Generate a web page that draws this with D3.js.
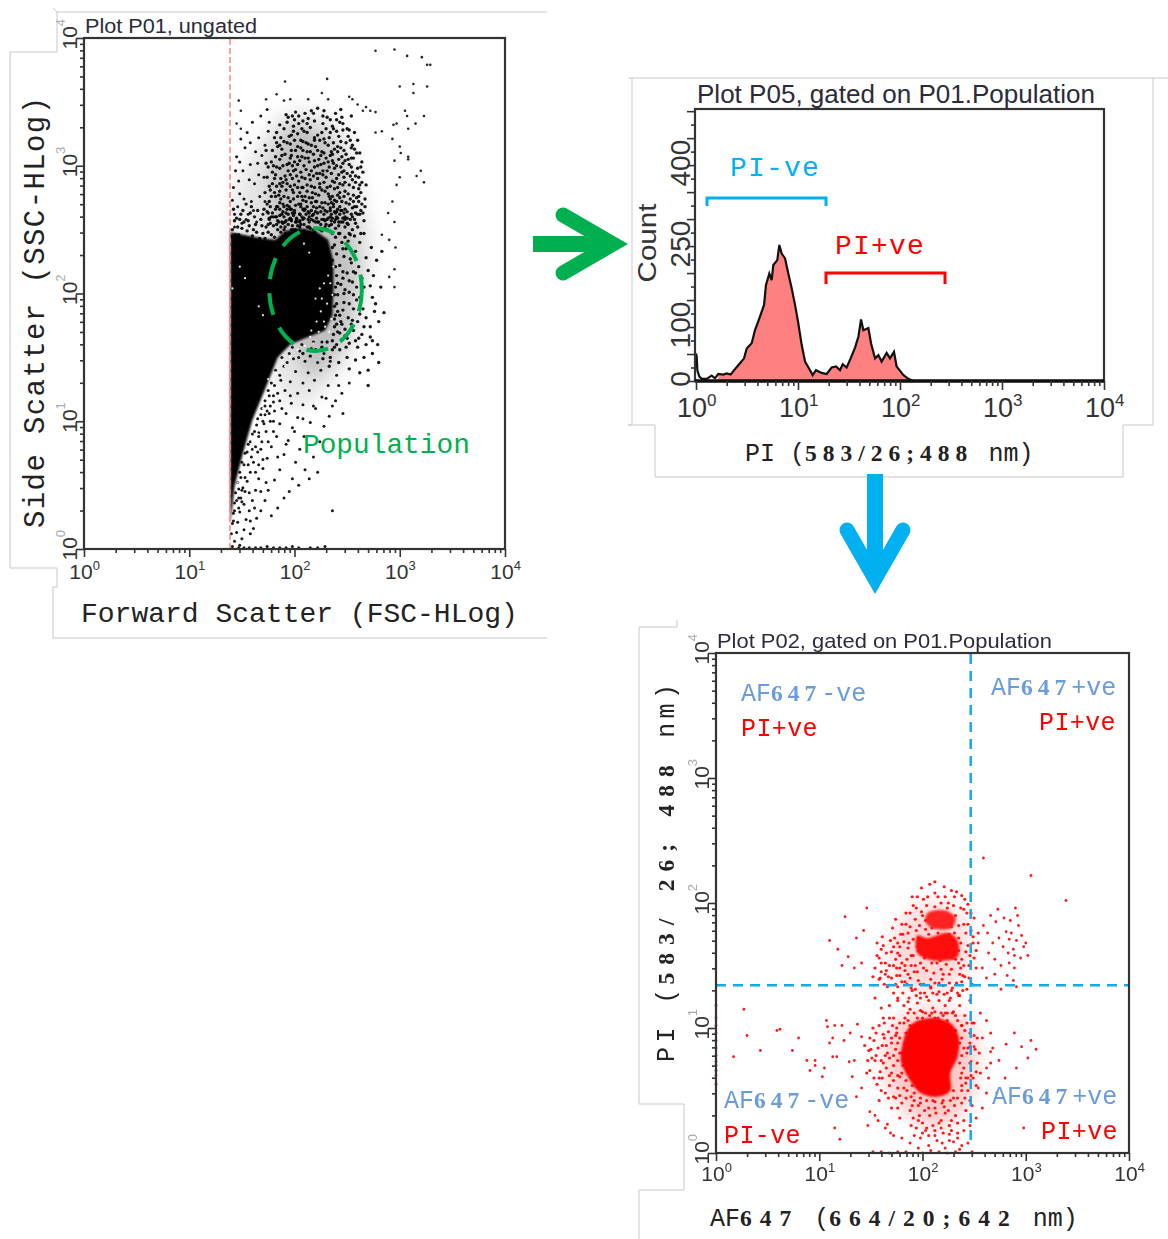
<!DOCTYPE html>
<html>
<head>
<meta charset="utf-8">
<title>Flow cytometry gating</title>
<style>
  body { margin: 0; background: #fff; }
  svg { display: block; }
  .outline { fill: none; stroke: #c9c9c9; stroke-width: 1; }
  .frame { fill: none; stroke: #333; stroke-width: 2.2; }
  .axis path { display: none; }
  .axis line { stroke: #333; stroke-width: 1.6; }
  .title { font-family: "Liberation Sans", sans-serif; fill: #2b2b3a; }
  .tick10 { font-family: "Liberation Sans", sans-serif; fill: #333; }
  .mono { font-family: "Liberation Mono", monospace; }
  .num { font-family: "Liberation Serif", serif; font-weight: bold; }
</style>
</head>
<body>
<script src="https://d3js.org/d3.v7.min.js"></script>
<script>

// all events below are flat x,y lists in log10 units x 100

// P01 scatter (FSC, SSC)
var p01Outliers = [277,390,295,391,307,386,321,385,329,379,326,379,300,362,313,364,326,362,313,357,191,366,231,368,226,357,183,356,147,351,173,352,190,351,196,352,213,352,232,352,252,354,255,352,149,343,260,348,268,346,265,343,272,343,277,342,305,343,307,339,323,339,315,333,308,329,297,333,294,332,145,333,149,329,277,326,283,327,293,321,300,315,301,310,308,307,308,305,295,304,320,296,316,292,300,291,323,287,297,285,293,272,289,263,295,256,295,219,290,213,295,205,296,236,290,242,283,246];

var p01Cloud = [201,312,236,288,187,274,252,301,219,335,194,296,228,262,263,279,207,283,244,319,182,307,216,271,239,341,199,261,257,268,223,305,190,329,233,276,248,287,211,297,
176,284,229,318,204,339,241,266,215,289,186,261,254,314,197,308,226,281,208,266,237,302,193,318,261,291,218,257,246,333,179,295,212,326,232,259,203,276,258,255,
221,294,189,287,243,275,199,331,235,311,184,268,214,303,267,268,206,320,227,339,250,259,192,281,238,256,173,302,220,315,256,283,209,259,196,272,231,296,245,307,
181,322,264,303,217,279,202,292,240,327,188,256,253,274,225,264,178,276,210,341,234,284,198,300,247,263,213,317,259,310,186,298,230,329,205,262,242,293,221,272,
266,257,194,338,237,270,175,263,218,309,251,323,200,285,228,302,183,284,244,256,211,272,255,295,191,309,235,262,207,329,222,290,261,272,179,312,248,280,214,260,
197,266,233,322,242,305,186,332,203,301,225,254,258,263,216,343,192,263,238,282,208,312,250,294,229,271,181,290,268,285,219,299,201,256,245,338,212,285,236,331,
195,323,253,258,224,320,177,268,241,259,206,295,262,262,188,313,231,283,215,251,199,279,247,312,220,264,234,308,183,299,257,326,210,276,193,301,243,286,227,296,
204,333,239,263,260,320,186,280,222,345,249,271,174,291,213,264,232,316,198,290,255,267,207,307,244,299,180,260,219,283,236,276,192,340,265,295,226,311,201,269,
209,254,251,305,184,315,228,287,240,336,195,258,216,296,258,287,172,279,234,267,203,325,246,259,223,277,189,270,262,310,211,318,238,298,197,312,230,254,254,339,
218,268,178,303,243,268,205,279,226,326,191,292,249,318,213,306,235,257,182,276,259,275,200,336,241,283,221,259,187,322,267,274,208,273,232,303,196,284,252,285,
215,330,229,265,186,305,245,295,202,259,237,318,176,272,224,286,256,306,193,269,210,290,248,266,199,327,234,274,264,287,181,279,219,322,241,311,206,268,228,310,
190,276,253,292,217,261,231,338,203,307,247,276,184,257,222,300,238,264,196,317,260,298,212,280,175,299,243,334,208,335,226,258,255,260,192,289,235,294,250,329,
214,256,199,274,240,272,183,326,220,278,263,265,205,304,230,291,188,284,246,302,216,316,257,313,194,262,236,309,224,268,179,286,209,300,242,256,252,270,200,320,
232,270,186,271,219,304,248,258,204,288,227,333,261,282,195,302,238,287,212,268,173,312,244,314,223,256,189,300,256,277,207,260,234,326,198,281,215,311,250,264,
229,280,182,266,240,300,265,263,201,297,218,292,246,285,193,334,254,299,225,308,208,283,236,259,187,290,259,268,213,337,197,257,242,323,231,264,177,281,220,272,
204,270,249,309,227,293,190,319,238,273,255,316,210,306,183,254,243,262,216,284,234,336,196,306,261,276,222,324,200,265,247,291,186,286,229,257,252,328,211,262,
194,275,240,290,218,341,174,270,257,258,206,314,233,299,245,272,188,308,224,283,263,299,199,296,214,275,237,329,180,300,251,278,228,321,192,257,209,327,241,315,
221,267,201,342,255,289,235,271,185,277,246,328,216,258,230,306,197,324,260,262,207,291,243,279,176,258,224,294,248,304,212,311,189,264,239,258,203,283,226,271,
253,320,193,286,219,320,236,304,182,293,264,270,210,266,232,278,198,339,245,265,222,312,205,256,258,292,186,316,241,277,228,343,214,293,250,255,195,268,234,260,
208,319,178,260,244,344,217,275,200,303,256,272,225,301,190,260,238,313,212,333,262,285,183,318,231,258,247,296,196,293,220,256,207,276,240,264,254,306,203,315];

var p01CloudLow = [212,252,226,249,198,253,239,251,205,257,218,262,233,253,248,252,191,252,243,247,255,250,209,249,222,256,236,247,201,250,229,252,214,263,196,259,246,256,252,247,187,252,206,270,219,248,234,265,242,253,260,252,193,266,227,267,240,260,213,258,200,263,254,262,183,260,224,250,237,268,248,260,205,252,216,265,190,268,231,250,257,245,263,247,209,265,244,265,197,250,222,263,251,254,175,254,235,254,202,256,228,258];

var p01CloudLeft = [143,262,158,301,147,288,166,322,152,274,171,291,141,273,162,286,156,262,169,308,148,303,160,334,175,327,144,296,153,314,167,276,150,255,172,316,159,272,142,283,164,256,146,268,155,326,170,262,149,321,163,311,157,289,145,307,168,339,174,344,151,296,161,265,143,252,166,293,154,258,176,334,148,278,158,318,172,272,165,302];

var p01Rim = [141,250,148,258,155,249,163,254,170,247,176,259,184,250,191,256,196,266,203,253,147,246,158,263,167,243,173,252,181,244,188,262,199,250,208,258,143,257,151,265,160,245,174,264,185,256,192,247,205,262,214,252,146,252,153,243,162,260,169,253,178,246,183,268,194,254,201,245,144,246,157,253,165,265,172,243,180,253,187,248,197,258,211,247,150,251,159,268,168,258,175,248,189,255,204,249,218,250,142,266,152,256,164,248,177,255,186,266,195,246,206,254,141,244,149,262,156,257,171,266,182,260,198,263,209,266,145,259,154,270,161,250,179,263,190,250,202,258];

var p01Ring = [242,247,251,241,236,236,247,229,258,233,243,222,254,224,262,240,240,214,250,216,261,221,268,228,244,207,255,209,236,226,264,212,270,218,241,199,252,201,259,205,247,193,262,197,272,206,238,190,256,188,265,188,274,197,243,183,251,181,260,178,268,181,276,186,240,176,248,172,256,171,264,168,272,174,280,178,237,168,245,164,252,161,260,158,268,160,243,156,250,150,258,148,266,150,274,153,238,158,234,150,242,146,252,141,262,138,270,140,280,146,246,235,253,246,266,247,273,236,278,226,283,233,275,214,282,205,277,192,285,185,272,166,279,160,270,128,238,238,248,203,239,205,246,212,256,199,262,184,252,192,241,186,238,180,245,176,255,179,258,163,249,158,241,170,266,174,274,163,248,244,258,216,266,205,
239,244,245,240,240,231,249,235,239,221,246,217,241,208,238,199,247,200,240,192,246,187,239,183,244,178,238,174,243,169,236,163,240,160,248,167,231,162,226,158,236,156,233,143,227,149,220,156,215,151,208,153,252,210,256,217,253,227,259,195,254,176,250,165,261,165];

var p01Lower = [205,155,216,157,228,153,199,149,210,147,222,146,234,147,190,143,201,139,213,138,225,140,240,136,252,130,186,136,196,131,208,130,219,132,232,128,245,122,181,128,191,124,203,122,214,124,226,119,239,116,176,120,186,116,197,114,208,113,220,110,233,104,172,112,181,108,192,106,203,103,215,99,228,96,168,105,177,100,186,98,198,95,209,88,224,84,164,97,173,92,183,88,194,85,205,78,218,72,160,90,169,84,178,80,190,74,201,68,156,82,165,76,174,71,186,62,198,55,153,75,161,68,170,63,181,54,150,68,158,60,166,55,175,46,190,40,148,60,155,53,163,46,172,38,184,32,146,52,153,45,160,38,168,30,178,26,144,44,150,37,157,30,164,24,143,36,148,29,154,23,161,16,142,28,146,21,152,15,158,12,141,20,145,13,150,8,140,12,143,6,148,3,141,2,147,1,152,1,157,1,163,1,168,1,174,2,180,1,186,1,192,1,198,2,204,1,215,1,222,1,229,2,236,30,204,50,195,45,210,62,214,55,222,60,166,91,171,98,176,106,180,115,188,110,196,120,170,70,175,84,180,92,163,60,168,45,173,52,157,44,162,32,152,35,158,22,147,40,184,72,192,82,200,92,208,102,218,112,230,118,242,128,236,112,246,106,180,100,168,78,
188,150,193,146,182,140,187,132,178,130,175,124,180,120,172,116,169,110,174,108,165,102,170,100,162,92,166,88,158,84,163,80,155,76,159,72,152,66,156,66,149,56,153,56,147,47,151,48,145,38,149,40,143,30,147,32,142,22,198,158,207,160,218,162,226,162,195,153,204,150,172,105,177,112,184,122,160,78,166,66,150,46];

// holes left in the solid part of P01
var p01Gaps = [237,221,232,214,228,208,236,199,231,192,225,186,235,180,229,174,223,170,218,161,210,159,203,156,196,150,191,143,216,171,224,204,220,196,148,221,153,212,141,204,166,190,170,183,175,133,172,118,168,103,165,90,162,78,158,64,154,58,209,239,214,232,228,178,233,170,221,178,215,166,226,196,234,208,188,146,182,138,177,126,170,110,160,84,150,64,146,52];

var p01Solid = [[139,248],[170,243],[182,242],[191,249],[205,251],[220,249],[232,242],[237,225],[237,203],[236,183],[229,171],[210,165],[196,160],[184,150],[173,127],[160,101],[151,75],[143,49],[141,33],[139,19]];
var p01DensityOuter = [[140,250],[147,290],[160,310],[175,330],[195,342],[225,342],[250,325],[260,295],[270,260],[275,230],[265,195],[255,155],[230,125],[200,110]];
var p01DensityInner = [[180,250],[178,300],[195,330],[215,330],[240,310],[250,270],[258,240],[258,200],[245,160],[215,135]];
var populationGate = {x: 220, y: 203, rx: 44, ry: 48};
var fscCutoff = 24.4;

// P05 histogram
var piLog = [0,.007,.013,.033,.056,.105,.154,.186,.219,.268,.301,.34,.382,.431,.471,.497,.546,.578,.621,.667,.686,.719,.742,.758,.797,.817,.84,.873,.905,.938,.971,1.003,1.036,1.069,1.118,1.144,1.176,1.232,1.281,1.33,1.373,1.412,1.438,1.477,1.516,1.559,1.592,1.618,1.641,1.69,1.716,1.755,1.788,1.82,1.869,1.902,1.941,1.967,2.033,2.082,2.131,4];
var piCount = [51,45,20,8,4,4,10,5,13,12,14,12,22,33,42,60,70,94,116,141,178,199,187,215,224,252,236,227,199,172,141,107,67,36,20,11,20,15,13,25,27,20,31,25,42,62,82,114,94,98,70,42,48,36,52,42,54,27,11,4,0,0];
var countLabels = [0,100,250,400];

// P02 scatter (AF647, PI)
var p02Outliers = [27,115,62,99,59,98,30,94,80,92,43,82,74,82,17,77,107,106,108,101,115,102,122,102,113,92,124,90,110,88,96,74,96,70,88,74,91,66,105,68,103,61,113,77,117,77,129,73,134,74,130,96,137,103,141,93,132,61,141,52,136,45,115,20,120,11,147,22,149,33,154,30,169,16,166,23,298,20,339,202,305,222,259,236,0,55,0,62,0,70,0,78,0,84,0,90,0,96,0,102,0,108,0,66,0,73,0,118,250,85,258,92,266,81,274,74,281,87,289,96,296,85,302,76,247,73,262,68,280,60,291,68,305,90,310,83,242,60,254,52,272,48,110,170,125,189,118,163,136,172,128,157,141,152,146,196,143,178,134,148,122,150];

var p02Upper = [203,186,226,163,191,171,237,148,212,197,178,158,219,139,247,178,198,152,231,205,184,183,208,132,242,161,215,176,169,170,224,189,196,138,235,172,205,168,189,150,252,148,217,154,175,142,228,147,201,203,243,192,186,164,211,144,238,137,164,152,221,213,194,178,232,155,207,158,181,128,249,168,216,129,199,193,226,175,172,150,240,183,188,140,213,167,234,128,160,163,204,146,245,150,179,175,222,160,196,162,237,196,209,180,185,155,229,132,154,148,218,200,201,135,248,135,193,187,235,162,176,168,214,152,241,141,167,141,207,215,226,136,189,132,232,190,199,170,244,166,183,146,219,168,204,125,238,155,171,180,212,208,250,156,195,145,228,181,180,137,223,151,206,175,236,143,161,173,216,136,247,192,191,198,230,167,202,156,174,155,242,176,186,176,210,128,233,209,198,124,220,181,245,140,164,143,213,160,184,192,226,143,240,150,176,133,205,187,235,182,193,131,218,147,158,156,252,162,199,212,229,156,210,170,187,124,241,203,170,161,224,196,201,148,233,136,182,169,215,190,246,158,195,165,208,139,166,133,237,168,221,127,178,148,203,179,230,198,191,158,243,131,212,217,174,187,227,124,159,140,235,152,197,182,220,143,249,173,185,135,207,162,240,195,172,128,216,170,228,210,193,150,236,126,204,198,180,152,244,183,212,136,162,166,198,128,231,176,222,205,188,181,209,152,176,124,239,142,196,172,
156,158,168,150,160,145,173,172,165,160,152,141,178,165,183,150,170,140,188,192,180,183,175,148,192,145,163,135,156,168,181,175,187,168,174,135,186,143,194,196,160,152,165,146,178,142,172,165,189,158,158,139,176,160,183,137,200,190,195,205,190,205,205,205,215,205,225,200,238,206,244,199,250,188,254,176];

var p02Bridge = [195,120,210,116,226,122,202,128,218,112,236,118,188,115,228,130,206,122,194,126,222,118,214,127,186,121,235,126,200,113,216,122,208,133,230,113,190,130,224,128,239,130,182,118,198,135,220,134,246,122,176,122,168,118,160,116,154,124];

var p02Lower = [196,103,226,85,172,78,240,68,184,96,215,108,161,86,246,96,203,112,178,61,234,106,189,45,221,37,154,74,241,44,208,99,167,97,251,83,196,38,229,112,176,88,238,54,159,65,213,32,186,106,246,72,168,54,204,105,231,38,150,83,191,28,224,100,181,70,249,60,162,95,200,24,236,88,172,45,212,113,243,80,156,55,218,26,178,104,253,92,188,34,227,42,165,68,206,36,241,98,175,96,195,108,147,74,232,30,158,102,220,110,184,58,244,50,168,108,198,40,237,60,153,90,210,42,176,52,250,104,161,60,226,22,188,102,242,34,170,88,204,20,149,66,234,44,180,40,216,106,253,72,164,78,192,112,238,78,155,96,222,32,172,108,246,88,197,30,230,50,183,88,212,18,160,50,241,110,176,62,255,80,189,22,224,106,167,44,207,30,238,40,151,76,198,114,234,24,180,80,219,40,247,62,163,104,192,42,228,18,172,70,243,104,185,50,209,112,157,84,236,72,200,16,176,36,250,94,165,86,216,24,186,112,240,26,153,60,225,34,194,20,171,102,232,98,207,110,160,74,246,42,182,104,220,16,256,64,168,62,202,34,238,102,178,28,228,26,149,92,190,54,212,36,244,84,162,108,234,16,174,94,196,26,224,112,158,42,252,54,206,14,
174,83,178,92,170,92,176,74,180,64,172,58,182,52,166,80,162,72,175,100,183,108,170,64,184,44,178,46,190,38,192,48,198,44,204,42,212,41,220,42,230,44,238,50,238,64,240,84,238,92,238,102,232,110,222,112,212,108,200,108,178,80,182,78,246,85,244,60,248,104,252,65,248,38,242,56,174,44,168,76,163,92,155,78,158,60,148,82,152,100,146,64,144,86,164,48,170,36];

var p02Tail = [198,12,206,6,214,10,222,4,230,9,236,3,203,18,212,14,219,8,226,15,234,12,208,2,216,1,224,0,232,1,196,4,188,8,180,12,184,1,176,1,168,0,160,1,152,1,172,14,164,20,157,26,200,0,210,22,218,20,226,10,240,18,244,8,248,1,238,6,192,14,246,22,252,28,258,36,262,48,264,60,266,72,268,84,266,96,262,106,256,112];

var p02Right = [286,176,291,170,288,163,293,182,284,171,283,160,296,174,289,158,281,177,292,190,285,186,290,196,274,172,268,168,279,188,263,176,271,185,278,165,298,165,284,152,289,148,295,156,264,160,270,155,276,150,282,142,288,138,258,148,262,140,270,143,276,131,291,133,300,168,302,158,273,195,266,190,259,182,254,168];

var p02UpperCore = [[195,174],[205,172],[225,176],[234,170],[234,157],[222,154],[205,155],[195,160]];
var p02TopCore = [[205,192],[222,194],[232,188],[228,180],[210,180],[203,185]];
var p02LowerCore = [[191,104],[208,108],[227,104],[235,93],[234,77],[227,64],[227,50],[215,45],[198,48],[188,58],[179,74],[181,88],[185,98]];
var p02LowerHalo = [[170,100],[205,115],[245,105],[252,75],[240,35],[212,20],[185,32],[165,62]];
var p02UpperHalo = [[170,170],[190,195],[220,200],[240,185],[246,155],[225,132],[190,130],[170,148]];
var af647Cutoff = 293;
var piCutoff = 22;

var decades = [1, 10, 100, 1000, 10000];

var svg = d3.select("body").append("svg").attr("width", 1168).attr("height", 1239);
var line = d3.line();
var smooth = d3.line().curve(d3.curveCatmullRomClosed);

var defs = svg.append("defs");
[["soft", 0.45], ["edge", 1.3], ["glow", 9]].forEach(function(f) {
  defs.append("filter").attr("id", f[0]).attr("x", "-30%").attr("y", "-30%").attr("width", "160%").attr("height", "160%")
    .append("feGaussianBlur").attr("stdDeviation", f[1]);
});

// light window outlines behind each plot
[[[53,8],[57,12],[57,52],[10,52],[10,568],[57,568],[57,587],[53,587],[53,638],[547,638]],
 [[57,12],[547,12]],
 [[628,78],[632,78],[632,425],[628,425],[655,425],[655,477],[1123,477],[1123,425],[1153,425],[1153,78],[1168,78]],
 [[632,78],[1153,78]],
 [[677,620],[677,627],[639,627],[639,1104],[684,1104],[684,1190],[639,1190],[639,1239]]
].forEach(function(d) { svg.append("path").attr("class", "outline").attr("d", line(d)); });

function minors() {
  var t = [];
  decades.slice(0, 4).forEach(function(d) { d3.range(1, 10).forEach(function(k) { t.push(d * k); }); });
  t.push(10000);
  return t;
}

function isDecade(v) { return decades.indexOf(v) >= 0; }

function styleTicks(g, major, minor, attr) {
  g.selectAll(".tick line").attr(attr, function(d) {
    var len = isDecade(d) ? major : minor;
    return attr[0] == "y" ? len : -len;
  });
}

// "10" with a small exponent, as real text
function xLabels(g, x, baseline, size, supSize) {
  decades.forEach(function(v, i) {
    var t = g.append("text").attr("class", "tick10")
      .attr("x", x(v) + size * 0.03).attr("y", baseline)
      .attr("text-anchor", "middle").style("font-size", size + "px").text("10");
    t.append("tspan").attr("dy", -size * 0.42).style("font-size", supSize + "px").text(i);
  });
}

function yLabels(g, y, xpos, size, supSize) {
  decades.forEach(function(v, i) {
    var t = g.append("text").attr("class", "tick10")
      .attr("transform", "translate(" + xpos + "," + (y(v) + size * 0.55) + ") rotate(-90)")
      .style("font-size", size + "px").text("10");
    t.append("tspan").attr("dy", -size * 0.55).attr("fill", "#aaa").style("font-size", supSize + "px").text(i);
  });
}

function logAxes(x, y, top, bottom, left, opts) {
  var gx = svg.append("g").attr("class", "axis").attr("transform", "translate(0," + bottom + ")")
    .call(d3.axisBottom(x).tickValues(minors()).tickFormat("").tickSizeOuter(0));
  styleTicks(gx, 8, 4, "y2");
  var gy = svg.append("g").attr("class", "axis").attr("transform", "translate(" + left + ",0)")
    .call(d3.axisLeft(y).tickValues(minors()).tickFormat("").tickSizeOuter(0));
  styleTicks(gy, 8, 4, "x2");
  xLabels(svg, x, opts.xBase, opts.size, opts.sup);
  yLabels(svg, y, opts.yPos, opts.size, opts.sup);
}

function events(flat) {
  return d3.range(0, flat.length, 2).map(function(i) { return [flat[i], flat[i + 1]]; });
}

function dots(list, x, y, r, fill, opacity) {
  svg.append("g").attr("filter", "url(#soft)").selectAll("circle").data(events(list)).enter().append("circle")
    .attr("cx", function(d) { return x(Math.pow(10, d[0] / 100)); })
    .attr("cy", function(d) { return y(Math.pow(10, d[1] / 100)); })
    .attr("r", r).attr("fill", fill).attr("opacity", opacity);
}

function region(list, x, y, gen, fill, opacity, blur) {
  svg.append("path").attr("fill", fill).attr("opacity", opacity)
    .attr("filter", blur ? "url(#" + blur + ")" : null)
    .attr("d", gen(list.map(function(d) { return [x(Math.pow(10, d[0] / 100)), y(Math.pow(10, d[1] / 100))]; })));
}

// mono letters with bold serif digits, like the hand edited labels
function mixed(t, str, size, monoTrack, digitTrack) {
  str.split(/([\d\/;]+)/).forEach(function(run) {
    if (!run) return;
    var digits = /^[\d\/;]+$/.test(run);
    t.append("tspan").attr("class", digits ? "num" : "mono")
      .style("font-size", digits ? (size * 0.94) + "px" : null)
      .style("letter-spacing", (digits ? digitTrack : monoTrack) + "px")
      .text(run);
  });
  return t;
}

function label(x, y, str, size, color, rotate, monoTrack, digitTrack) {
  var t = svg.append("text").attr("fill", color).style("font-size", size + "px").style("white-space", "pre")
    .attr("transform", "translate(" + x + "," + y + ")" + (rotate ? " rotate(-90)" : ""));
  return mixed(t, str, size, monoTrack || 0, digitTrack === undefined ? size * 0.16 : digitTrack);
}

function title(x, y, str, size, len) {
  svg.append("text").attr("class", "title").attr("x", x).attr("y", y).style("font-size", size + "px")
    .attr("textLength", len).attr("lengthAdjust", "spacingAndGlyphs").text(str);
}

// ---- P01
var x1 = d3.scaleLog().domain([1, 10000]).range([84, 505]);
var y1 = d3.scaleLog().domain([1, 10000]).range([549, 38]);

region(p01DensityOuter, x1, y1, smooth, "#dcdcdc", 0.7, "glow");
region(p01DensityInner, x1, y1, smooth, "#b0b0b0", 0.7, "glow");
dots(p01Outliers, x1, y1, 1.3, "#111", 0.9);
dots(p01CloudLeft, x1, y1, 1.5, "#000", 0.9);
dots(p01Cloud, x1, y1, 1.7, "#000", 0.9);
dots(p01CloudLow, x1, y1, 1.7, "#000", 0.9);
dots(p01Rim, x1, y1, 1.7, "#000", 0.9);
dots(p01Ring, x1, y1, 1.7, "#000", 0.9);
dots(p01Lower, x1, y1, 1.5, "#000", 0.9);
region(p01Solid, x1, y1, line, "#000", 1, "edge");
dots(p01Gaps, x1, y1, 1.1, "#fff", 0.9);

svg.append("line").attr("x1", x1(fscCutoff)).attr("x2", x1(fscCutoff)).attr("y1", 39).attr("y2", 549)
  .attr("stroke", "#ff8585").attr("stroke-width", 1.5).attr("stroke-dasharray", "6,3");

var gatePx = {cx: x1(Math.pow(10, populationGate.x / 100)), cy: y1(Math.pow(10, populationGate.y / 100))};
svg.append("ellipse").attr("cx", gatePx.cx).attr("cy", gatePx.cy)
  .attr("rx", x1(Math.pow(10, (populationGate.x + populationGate.rx) / 100)) - gatePx.cx)
  .attr("ry", gatePx.cy - y1(Math.pow(10, (populationGate.y + populationGate.ry) / 100)))
  .attr("fill", "none").attr("stroke", "#00b050").attr("stroke-width", 4).attr("stroke-dasharray", "22,14");

svg.append("rect").attr("class", "frame").attr("x", 84).attr("y", 38).attr("width", 421).attr("height", 511);
logAxes(x1, y1, 38, 549, 84, {xBase: 579, yPos: 77, size: 21, sup: 13});
title(85, 33, "Plot P01, ungated", 20, 172);

label(303, 453, "Population", 27.8, "#00b050");
label(81, 622, "Forward Scatter (FSC-HLog)", 28, "#222");
label(44, 528, "Side Scatter (SSC-HLog)", 29, "#222", true, 1.4);

// ---- P05
var x2 = d3.scaleLog().domain([1, 10000]).range([696, 1104]);
var y2 = d3.scaleLinear().domain([0, 504]).range([381, 109]);
var hist = piLog.map(function(d, i) { return [x2(Math.pow(10, d)), y2(piCount[i])]; });

svg.append("path").attr("fill", "#ff8080")
  .attr("d", d3.area().x(function(d) { return d[0]; }).y0(y2(0)).y1(function(d) { return d[1]; })(hist.slice(8)));
svg.append("path").attr("fill", "none").attr("stroke", "#111").attr("stroke-width", 2.2).attr("d", line(hist));

svg.append("rect").attr("class", "frame").attr("x", 695).attr("y", 109).attr("width", 409).attr("height", 272);
svg.append("line").attr("x1", 695).attr("x2", 1104).attr("y1", 381).attr("y2", 381).attr("stroke", "#111").attr("stroke-width", 3.5);
var gx2 = svg.append("g").attr("class", "axis").attr("transform", "translate(0,381)")
  .call(d3.axisBottom(x2).tickValues(minors()).tickFormat("").tickSizeOuter(0));
styleTicks(gx2, 9, 5, "y2");
var gy2 = svg.append("g").attr("class", "axis").attr("transform", "translate(695,0)")
  .call(d3.axisLeft(y2).tickValues(d3.range(0, 501, 25)).tickFormat("").tickSizeOuter(0));
gy2.selectAll(".tick line").attr("x2", function(d) { return d % 50 == 0 ? -8 : -4; });
xLabels(svg, x2, 417, 27, 17);
countLabels.forEach(function(v) {
  svg.append("text").attr("class", "tick10").attr("text-anchor", "middle").style("font-size", "28px")
    .attr("transform", "translate(690," + (y2(v) - 2) + ") rotate(-90)").text(v);
});
svg.append("text").attr("class", "tick10").attr("text-anchor", "middle").style("font-size", "25px")
  .attr("textLength", 79).attr("lengthAdjust", "spacingAndGlyphs")
  .attr("transform", "translate(656,243) rotate(-90)").text("Count");
title(697, 103, "Plot P05, gated on P01.Population", 25, 398);

label(730, 176, "PI-ve", 28, "#00b0f0", false, 1.2);
label(835, 254, "PI+ve", 28, "#ff0000", false, 1.2);
svg.append("path").attr("fill", "none").attr("stroke", "#00b0f0").attr("stroke-width", 3)
  .attr("d", line([[707,206],[707,198],[826,198],[826,206]]));
svg.append("path").attr("fill", "none").attr("stroke", "#ff0000").attr("stroke-width", 3)
  .attr("d", line([[826,284],[826,273],[945,273],[945,284]]));
label(745, 461, "PI (583/26;488 nm)", 25, "#222", false, 0, 6);

// ---- P02
var x3 = d3.scaleLog().domain([1, 10000]).range([716, 1129]);
var y3 = d3.scaleLog().domain([1, 10000]).range([1153, 653]);

region(p02LowerHalo, x3, y3, smooth, "#ffb0b0", 0.7, "glow");
region(p02UpperHalo, x3, y3, smooth, "#ffc0c0", 0.6, "glow");
dots(p02Outliers, x3, y3, 1.4, "#ff0000", 0.9);
dots(p02Upper, x3, y3, 1.6, "#ff0000", 0.9);
dots(p02Bridge, x3, y3, 1.6, "#ff0000", 0.9);
dots(p02Lower, x3, y3, 1.6, "#ff0000", 0.9);
dots(p02Tail, x3, y3, 1.5, "#ff0000", 0.9);
dots(p02Right, x3, y3, 1.4, "#ff0000", 0.9);
region(p02UpperCore, x3, y3, smooth, "#ff1010", 1, "edge");
region(p02TopCore, x3, y3, smooth, "#ff2020", 1, "edge");
region(p02LowerCore, x3, y3, smooth, "#ff0000", 1, "edge");

svg.append("line").attr("x1", x3(af647Cutoff)).attr("x2", x3(af647Cutoff)).attr("y1", 654).attr("y2", 1147)
  .attr("stroke", "#17a9e6").attr("stroke-width", 2.5).attr("stroke-dasharray", "10,7");
svg.append("line").attr("x1", 716).attr("x2", 1130).attr("y1", y3(piCutoff)).attr("y2", y3(piCutoff))
  .attr("stroke", "#17a9e6").attr("stroke-width", 2.5).attr("stroke-dasharray", "10,7");

svg.append("rect").attr("class", "frame").attr("x", 716).attr("y", 653).attr("width", 413).attr("height", 500);
logAxes(x3, y3, 653, 1153, 716, {xBase: 1181, yPos: 709, size: 21, sup: 13});
title(717, 648, "Plot P02, gated on P01.Population", 21, 335);

var blueText = "#6a9bdc";
label(741, 701, "AF647-ve", 25, blueText, false, 0, 5);
label(741, 736, "PI+ve", 25, "#ff0000", false, 0.4);
label(991, 695, "AF647+ve", 25, blueText, false, 0, 5);
label(1039, 730, "PI+ve", 25, "#ff0000", false, 0.4);
label(724, 1108, "AF647-ve", 25, blueText, false, 0, 5);
label(724, 1143, "PI-ve", 25, "#ff0000", false, 0.4);
label(992, 1104, "AF647+ve", 25, blueText, false, 0, 5);
label(1041, 1139, "PI+ve", 25, "#ff0000", false, 0.4);

label(710, 1226, "AF647 (664/20;642 nm)", 25, "#222", false, 0, 8);
label(674, 1062, "PI (583/ 26; 488 nm)", 25, "#222", true, 4.4, 8);

// ---- arrows between the plots
svg.append("rect").attr("x", 533).attr("y", 236).attr("width", 78).attr("height", 16).attr("fill", "#00b050");
svg.append("path").attr("fill", "none").attr("stroke", "#00b050").attr("stroke-width", 15)
  .attr("stroke-linecap", "round").attr("stroke-miterlimit", 10)
  .attr("d", line([[563,215],[613,244],[563,273]]));
svg.append("rect").attr("x", 867).attr("y", 474).attr("width", 16).attr("height", 90).attr("fill", "#00b0f0");
svg.append("path").attr("fill", "none").attr("stroke", "#00b0f0").attr("stroke-width", 15)
  .attr("stroke-linecap", "round").attr("stroke-miterlimit", 10)
  .attr("d", line([[847,530],[875,579],[903,530]]));

</script>
</body>
</html>
